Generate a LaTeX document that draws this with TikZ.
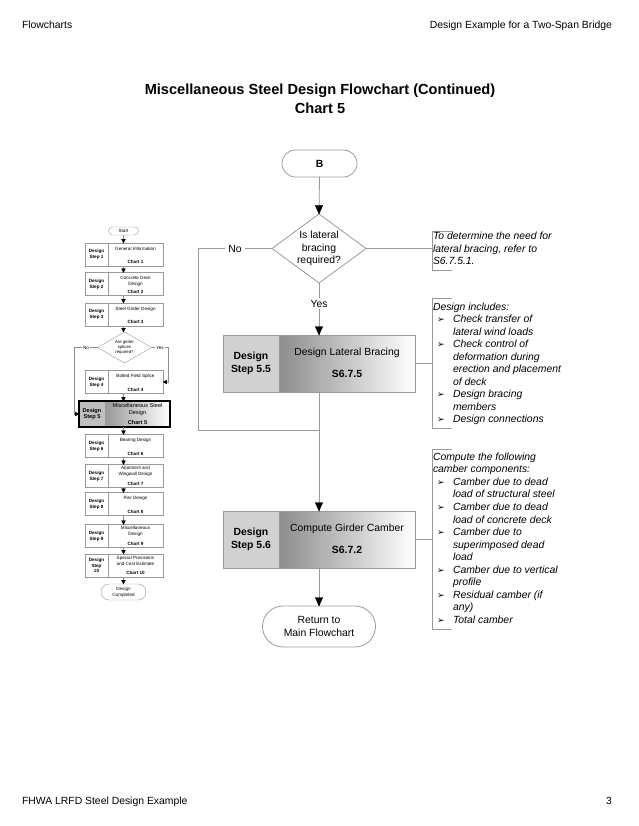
\documentclass[tikz,border=0pt]{standalone}
\usepackage{fontspec}
\setmainfont{Liberation Sans}
\newfontfamily\dejavu{DejaVu Sans}
\usetikzlibrary{shapes.geometric,calc}
\newcommand{\bul}{\makebox[20pt][l]{\hspace{4pt}{\dejavu\upshape\fontsize{9}{9}\selectfont ➢}}}
\newcommand{\ind}{\hspace*{20pt}}
\newcommand{\ministep}[6]{%
  \node[mL,mb] (#1L) at (96.5,#2) {#3};
  \node[mR] (#1R) at (135.5,#2) {};
  \node[mt] at (135.5,#2+#5) {#4};
  \node[mb] at (135.5,#2+7.5) {#6};
}
\tikzset{
  tipd/.pic={\filldraw[black,line width=0.3pt] (0,0) -- (-3.8,-8.5) -- (3.8,-8.5) -- cycle;},
  mtipd/.pic={\filldraw[black,line width=0.2pt] (0,0) -- (-2,-3.8) -- (2,-3.8) -- cycle;},
  mtipr/.pic={\filldraw[black,line width=0.2pt] (0,0) -- (-3.8,-2) -- (-3.8,2) -- cycle;},
  mtipl/.pic={\filldraw[black,line width=0.2pt] (0,0) -- (3.8,-2) -- (3.8,2) -- cycle;}
}
\begin{document}
\begin{tikzpicture}[x=1pt,y=-1pt,
  every node/.style={inner sep=0pt,outer sep=0pt},
  conn/.style={draw=black!40,line width=0.8pt},
  mconn/.style={draw=black!45,line width=0.4pt},
  txt/.style={font=\fontsize{10.4}{12.8}\selectfont,align=center},
  btxt/.style={font=\fontsize{10.4}{12.8}\selectfont\bfseries,align=center},
  note/.style={font=\fontsize{10.4}{12.55}\selectfont\itshape,align=left,anchor=north west},
  term/.style={draw=black!40,line width=0.8pt,fill=white},
  stepL/.style={draw=black!40,line width=0.8pt,fill=black!18,minimum width=56pt,minimum height=57pt},
  stepR/.style={draw=black!40,line width=0.8pt,left color=black!45,right color=white,minimum width=136pt,minimum height=57pt},
  mL/.style={draw=black!40,line width=0.4pt,fill=white,minimum width=23pt,minimum height=23pt},
  mR/.style={draw=black!40,line width=0.4pt,fill=white,minimum width=55pt,minimum height=23pt},
  mt/.style={font=\fontsize{4.6}{5.8}\selectfont,align=center},
  mb/.style={font=\fontsize{4.6}{5.8}\selectfont\bfseries,align=center},
  hdr/.style={font=\fontsize{10.4}{12.5}\selectfont},
  ttl/.style={font=\fontsize{14.6}{17}\selectfont\bfseries},
  bracket/.style={draw=black!40,line width=0.6pt}
]
\useasboundingbox (0,0) rectangle (638,826);

% header / footer
\node[hdr,anchor=base west] (hL) at (22,28.7) {Flowcharts};
\node[hdr,anchor=base east] (hR) at (612,28.7) {Design Example for a Two-Span Bridge};
\node[hdr,anchor=base west] (fL) at (22,804.7) {FHWA LRFD Steel Design Example};
\node[hdr,anchor=base east] (fR) at (612,804.7) {3};

% title
\node[ttl,anchor=base] (t1) at (320,95) {Miscellaneous Steel Design Flowchart (Continued)};
\node[ttl,anchor=base] (t2) at (320,113.5) {Chart 5};

% ===== main chart =====
\node[term,btxt,minimum width=75pt,minimum height=27pt,rounded corners=13.5pt] (B) at (319.5,163.5) {B};
\node[diamond,draw=black!40,line width=0.8pt,minimum width=94pt,minimum height=69pt] (D) at (319,248.5) {};
\node[txt] (Dt) at (D) {Is lateral\\bracing\\required?};

\node[stepL,btxt] (S55L) at (251,363.5) {Design\\Step 5.5};
\node[stepR] (S55R) at (347,363.5) {};
\node[txt] (S55a) at (347,353) {Design Lateral Bracing};
\node[btxt] (S55b) at (347,373.5) {S6.7.5};

\node[stepL,btxt] (S56L) at (251,539.5) {Design\\Step 5.6};
\node[stepR] (S56R) at (347,539.5) {};
\node[txt] (S56a) at (347,529) {Compute Girder Camber};
\node[btxt] (S56b) at (347,549.5) {S6.7.2};

\node[term,txt,minimum width=113pt,minimum height=41pt,rounded corners=20.5pt] (R) at (319,626.5) {Return to\\Main Flowchart};

\coordinate (J1) at (319,430);
\draw[conn] (B) -- (D);
\pic at (D.north) {tipd};
\draw[conn] (D.west) -- node[txt,fill=white,inner xsep=3pt] (No) {No} ++(-74,0) |- (J1);
\draw[conn] (D.south) -- node[txt,fill=white,inner sep=2pt,pos=0.4] (Yes) {Yes} (D.south |- S55R.north);
\pic at (D.south |- S55R.north) {tipd};
\draw[conn] (D |- S55R.south) -- (D |- S56R.north);
\pic at (D |- S56R.north) {tipd};
\draw[conn] (D |- S56R.south) -- (R.north);
\pic at (R.north) {tipd};

% notes
\coordinate (N1) at (432,248.5);
\coordinate (N2) at (432,363.5);
\coordinate (N3) at (432,539.5);
\draw[conn] (D.east) -- (N1);
\draw[conn] (S55R.east) -- (N2);
\draw[conn] (S56R.east) -- (N3);
\draw[bracket] (452,231) -- (432,231) -- (432,270) -- (452,270);
\draw[bracket] (452,298) -- (432,298) -- (432,428) -- (452,428);
\draw[bracket] (452,449) -- (432,449) -- (432,629) -- (452,629);

\node[note] (n1) at (433,232) {To determine the need for\\lateral bracing, refer to\\S6.7.5.1.};
\node[note] (n2) at (433,302.5) {Design includes:\\
\bul Check transfer of\\
\ind lateral wind loads\\
\bul Check control of\\
\ind deformation during\\
\ind erection and placement\\
\ind of deck\\
\bul Design bracing\\
\ind members\\
\bul Design connections};
\node[note] (n3) at (433,452.8) {Compute the following\\camber components:\\
\bul Camber due to dead\\
\ind load of structural steel\\
\bul Camber due to dead\\
\ind load of concrete deck\\
\bul Camber due to\\
\ind superimposed dead\\
\ind load\\
\bul Camber due to vertical\\
\ind profile\\
\bul Residual camber (if\\
\ind any)\\
\bul Total camber};

% ===== mini flowchart =====
\node[draw=black!40,line width=0.4pt,fill=white,minimum width=30pt,minimum height=8pt,rounded corners=4pt,mt] (mS) at (123.5,231) {Start};
\ministep{m1}{254.5}{Design\\Step 1}{General Information}{-5.5}{Chart 1}
\ministep{m2}{284}{Design\\Step 2}{Concrete Deck\\Design}{-3}{Chart 2}
\ministep{m3}{314.5}{Design\\Step 3}{Steel Girder Design}{-5.5}{Chart 3}
\node[diamond,draw=black!40,line width=0.4pt,minimum width=54pt,minimum height=31pt] (MD) at (124.5,347.5) {};
\node[font=\fontsize{4.3}{5.2}\selectfont,align=center] (MDt) at (MD) {Are girder\\splices\\required?};
\ministep{m4}{382}{Design\\Step 4}{Bolted Field Splice}{-5.5}{Chart 4}

\node[draw=black!40,line width=0.4pt,fill=black!25,minimum width=26pt,minimum height=26pt,font=\fontsize{5.6}{6.8}\selectfont\bfseries,align=center] (m5L) at (92,414) {Design\\Step 5};
\node[draw=black!40,line width=0.4pt,left color=black!40,right color=white,minimum width=65pt,minimum height=26pt] (m5R) at (137.5,414) {};
\draw[line width=1.2pt] (m5L.north west) rectangle (m5R.south east);
\node[font=\fontsize{5.6}{6.8}\selectfont,align=center] (m5a) at (137.5,409.5) {Miscellaneous Steel\\Design};
\node[font=\fontsize{5.6}{6.8}\selectfont\bfseries] (m5b) at (137.5,422) {Chart 5};

\ministep{m6}{446}{Design\\Step 6}{Bearing Design}{-5.5}{Chart 6}
\ministep{m7}{476}{Design\\Step 7}{Abutment and\\Wingwall Design}{-5}{Chart 7}
\ministep{m8}{504}{Design\\Step 8}{Pier Design}{-5.5}{Chart 8}
\ministep{m9}{536}{Design\\Step 9}{Miscellaneous\\Design}{-5}{Chart 9}
\ministep{m10}{565.5}{Design\\Step\\10}{Special Provisions\\and Cost Estimate}{-5}{Chart 10}
\node[draw=black!40,line width=0.4pt,fill=white,minimum width=45pt,minimum height=16pt,rounded corners=8pt,mt] (mE) at (123.5,592) {Design\\Completed};

\foreach \a/\b in {m1L/m2L,m2L/m3L,m4L/m5L,m5L/m6L,m6L/m7L,m7L/m8L,m8L/m9L,m9L/m10L}{
  \draw[mconn] (\a.south -| mS) -- (\b.north -| mS);
  \pic at (\b.north -| mS) {mtipd};
}
\draw[mconn] (mS) -- (m1L.north -| mS);
\pic at (m1L.north -| mS) {mtipd};
\draw[mconn] (m3L.south -| mS) -- (MD.north -| mS);
\pic at (MD.north -| mS) {mtipd};
\draw[mconn] (m10L.south -| mS) -- (mE);
\pic at (mE.north) {mtipd};
\draw[mconn] (MD.west) -- node[mt,fill=white,inner xsep=1pt] (mNo) {No} ++(-23,0) |- (m5L.west);
\pic at (m5L.west) {mtipr};
\draw[mconn] (MD.east) -- node[mt,fill=white,inner xsep=1pt] (mYes) {Yes} ++(17,0) |- (m4R.east);
\pic at (m4R.east) {mtipl};
\end{tikzpicture}
\end{document}
